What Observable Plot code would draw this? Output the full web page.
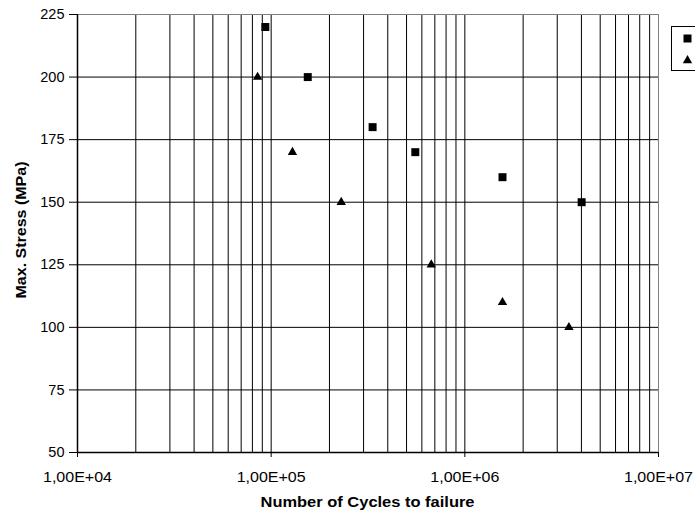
<!DOCTYPE html>
<html><head><meta charset="utf-8">
<script src="https://cdn.jsdelivr.net/npm/d3@7"></script>
<script src="https://cdn.jsdelivr.net/npm/@observablehq/plot@0.6"></script>
<style>body{margin:0;background:#fff} #chart{width:695px;height:512px}</style>
</head><body><div id="chart"></div>
<script>
const squareCycles = [93300, 154500, 334000, 555000, 1565000, 4010000];
const squareStress = [220, 200, 180, 170, 160, 150];
const triCycles = [85100, 128800, 230000, 671000, 1565000, 3447000];
const triStress = [200, 170, 150, 125, 110, 100];
const xTicks = [1e4, 1e5, 1e6, 1e7];
const xTickLabels = ["1,00E+04", "1,00E+05", "1,00E+06", "1,00E+07"];
const yTicks = [50, 75, 100, 125, 150, 175, 200, 225];
const xTitle = "Number of Cycles to failure";
const yTitle = "Max. Stress (MPa)";

const squares = squareCycles.map((c, i) => ({cycles: c, stress: squareStress[i]}));
const triangles = triCycles.map((c, i) => ({cycles: c, stress: triStress[i]}));
const minorX = [];
for (let e = 4; e < 7; e++) for (let m = 1; m <= 9; m++) minorX.push(m * 10 ** e);

const font = "'Liberation Sans', Arial, sans-serif";
const plot = Plot.plot({
  width: 695, height: 512,
  marginLeft: 77, marginRight: 37, marginTop: 14, marginBottom: 60,
  style: {fontFamily: font, fontSize: "14.5px", color: "#000", background: "#fff"},
  x: {type: "log", domain: [1e4, 1e7]},
  y: {domain: [50, 225]},
  marks: [
    Plot.ruleX(minorX.filter(v => v > 1e4), {stroke: "#000", strokeWidth: 1}),
    Plot.ruleY(yTicks.filter(v => v > 50 && v < 225), {stroke: "#000", strokeWidth: 1}),
    Plot.ruleY([225], {stroke: "#808080"}),
    Plot.ruleX([1e7], {stroke: "#808080"}),
    Plot.ruleX([1e4], {stroke: "#000", strokeWidth: 1.5}),
    Plot.ruleY([50], {stroke: "#000", strokeWidth: 1.5}),
    Plot.axisX({ticks: xTicks, tickFormat: d => xTickLabels[xTicks.indexOf(d)], tickSize: 5, tickPadding: 14, fontSize: 15, label: null}),
    Plot.axisY({ticks: yTicks, tickSize: 8, tickPadding: 5, label: null}),
    Plot.dot(squares, {x: "cycles", y: "stress", symbol: "square", r: 4.5, fill: "#000"}),
    Plot.dot(triangles, {x: "cycles", y: "stress", symbol: "triangle", r: 3.5, fill: "#000"})
  ]
});
document.getElementById("chart").appendChild(plot);
const svg = d3.select(plot);
svg.selectAll("g[aria-label='x-axis tick label'] text").attr("textLength", 69).attr("lengthAdjust", "spacingAndGlyphs");
svg.append("text").attr("x", 367.5).attr("y", 506.5).attr("text-anchor", "middle")
  .attr("font-family", font).attr("font-weight", "bold").attr("font-size", 14)
  .attr("textLength", 214).attr("lengthAdjust", "spacingAndGlyphs").text(xTitle);
svg.append("text").attr("transform", "translate(25.5,230) rotate(-90)").attr("text-anchor", "middle")
  .attr("font-family", font).attr("font-weight", "bold").attr("font-size", 14)
  .attr("textLength", 137).attr("lengthAdjust", "spacingAndGlyphs").text(yTitle);
const lg = svg.append("g");
lg.append("rect").attr("x", 671.5).attr("y", 26.5).attr("width", 40).attr("height", 44)
  .attr("fill", "#fff").attr("stroke", "#000");
lg.append("path").attr("transform", "translate(687.5,38.5)").attr("d", d3.symbol(d3.symbolSquare, 64)()).attr("fill", "#000");
lg.append("path").attr("transform", "translate(687.5,60.5)").attr("d", d3.symbol(d3.symbolTriangle, 38)()).attr("fill", "#000");
</script></body></html>
